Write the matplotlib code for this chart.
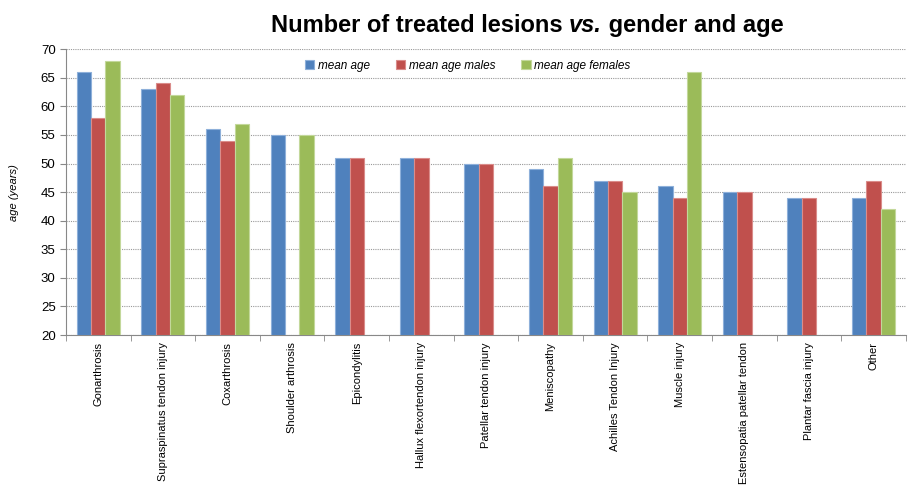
import matplotlib
matplotlib.use("Agg")
import matplotlib.pyplot as plt
import numpy as np

plt.rcParams['font.family'] = ['Liberation Sans', 'DejaVu Sans']

categories = ["Gonarthrosis", "Supraspinatus tendon injury", "Coxarthrosis",
              "Shoulder arthrosis", "Epicondylitis", "Hallux flexortendon injury",
              "Patellar tendon injury", "Meniscopathy", "Achilles Tendon Injury",
              "Muscle injury", "Estensopatia patellar tendon",
              "Plantar fascia injury", "Other"]
mean_age = [66, 63, 56, 55, 51, 51, 50, 49, 47, 46, 45, 44, 44]
mean_age_males = [58, 64, 54, np.nan, 51, 51, 50, 46, 47, 44, 45, 44, 47]
mean_age_females = [68, 62, 57, 55, np.nan, np.nan, np.nan, 51, 45, 66,
                    np.nan, np.nan, 42]
series_names = ["mean age", "mean age males", "mean age females"]
colors = ["#4F81BD", "#C0504D", "#9BBB59"]
edges = ["#8EB0DA", "#DA8C8A", "#C3D89B"]

fig = plt.figure(figsize=(9.08, 4.87), dpi=100)
ax = fig.add_axes([0.0727, 0.312, 0.925, 0.587])

x = np.arange(len(categories))
w = 0.222
for i, (vals, name) in enumerate(zip([mean_age, mean_age_males, mean_age_females],
                                     series_names)):
    v = np.asarray(vals, dtype=float)
    ax.bar(x + (i - 1) * w, v - 20, bottom=20, width=w, color=colors[i],
           edgecolor=edges[i], linewidth=0.8, label=name, zorder=3)

ax.set_xlim(-0.5, len(categories) - 0.5)
ax.set_ylim(20, 70)
ax.set_yticks(np.arange(20, 71, 5))
ax.yaxis.grid(True, color="#999999", linestyle=(0, (1, 1)), linewidth=0.8, zorder=0)

ax.set_xticks(x)
ax.set_xticklabels(categories, rotation=90, fontsize=8)
ax.tick_params(axis='x', length=0, pad=5)
ax.set_xticks(np.arange(-0.5, len(categories)), minor=True)
ax.tick_params(axis='x', which='minor', length=4, color="#888888", direction='out')
ax.tick_params(axis='y', labelsize=9.5, length=4, color="#888888", direction='out')

for s in ["top", "right"]:
    ax.spines[s].set_visible(False)
for s in ["left", "bottom"]:
    ax.spines[s].set_color("#888888")

ax.set_ylabel("age (years)", fontsize=8, style='italic', labelpad=16)

leg = ax.legend(loc='upper center', bbox_to_anchor=(0.478, 1.0), ncol=3, frameon=False,
                prop={'style': 'italic', 'size': 8.5}, handlelength=0.8,
                handleheight=0.8, handletextpad=0.3, columnspacing=2.2)

# title in three pieces so only "vs." is italic
size = 17
parts = [("Number of treated lesions ", 'normal'), ("vs.", 'italic'),
         (" gender and age", 'normal')]
texts = [fig.text(0, 0.935, s, fontsize=size, fontweight='bold', style=st,
                  va='baseline') for s, st in parts]
fig.canvas.draw()
r = fig.canvas.get_renderer()
widths = [t.get_window_extent(r).width for t in texts]
xpos = 527 - sum(widths) / 2
for t, wd in zip(texts, widths):
    t.set_x(xpos / fig.bbox.width)
    xpos += wd

fig.savefig("out.png", dpi=100)
